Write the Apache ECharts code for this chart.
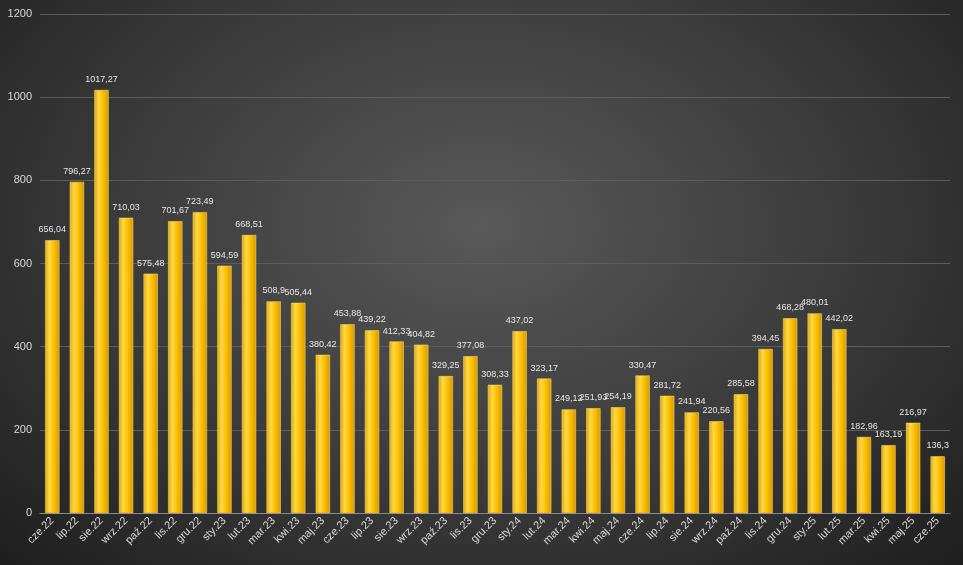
<!DOCTYPE html>
<html><head><meta charset="utf-8">
<script src="https://cdn.jsdelivr.net/npm/echarts@6/dist/echarts.min.js"></script>
<style>html,body{margin:0;padding:0;}#c{width:963px;height:565px;background:radial-gradient(ellipse at 50% 40%,#595959 0%,#3a3a3a 55%,#1e1e1e 100%);}</style>
</head><body><div id="c"></div>
<script>
const categories=["cze.22","lip.22","sie.22","wrz.22","paź.22","lis.22","gru.22","sty.23","lut.23","mar.23","kwi.23","maj.23","cze.23","lip.23","sie.23","wrz.23","paź.23","lis.23","gru.23","sty.24","lut.24","mar.24","kwi.24","maj.24","cze.24","lip.24","sie.24","wrz.24","paź.24","lis.24","gru.24","sty.25","lut.25","mar.25","kwi.25","maj.25","cze.25"];
const values=[656.04,796.27,1017.27,710.03,575.48,701.67,723.49,594.59,668.51,508.9,505.44,380.42,453.88,439.22,412.33,404.82,329.25,377.08,308.33,437.02,323.17,249.12,251.93,254.19,330.47,281.72,241.94,220.56,285.58,394.45,468.28,480.01,442.02,182.96,163.19,216.97,136.3];
const yTicks=[0,200,400,600,800,1000,1200];
const chart=echarts.init(document.getElementById('c'));
chart.setOption({
  backgroundColor:'transparent',
  grid:{left:40,right:13,top:14,bottom:52},
  xAxis:{type:'category',data:categories,
    axisLine:{lineStyle:{color:'#8a8a8a'}},axisTick:{show:false},
    axisLabel:{color:'#d9d9d9',rotate:45,fontSize:11,fontFamily:'Liberation Sans',interval:0,margin:6}},
  yAxis:{type:'value',min:yTicks[0],max:yTicks[yTicks.length-1],interval:200,
    axisLabel:{color:'#d9d9d9',fontSize:11,fontFamily:'Liberation Sans',formatter:v=>String(v)},
    splitLine:{lineStyle:{color:'#5c5c5c',width:1}},axisLine:{show:false}},
  series:[{type:'bar',data:values,barWidth:'58%',
    itemStyle:{color:new echarts.graphic.LinearGradient(0,0,1,0,[
      {offset:0,color:'#e0a800'},{offset:0.3,color:'#ffd84a'},{offset:0.6,color:'#ffc000'},{offset:1,color:'#d49a00'}]),
      borderColor:'#ffe680',borderWidth:0.5},
    label:{show:true,position:'top',distance:6,color:'#e6e6e6',fontSize:9,fontFamily:'Liberation Sans',
      formatter:p=>String(p.value).replace('.',',')}}]
});
</script></body></html>
